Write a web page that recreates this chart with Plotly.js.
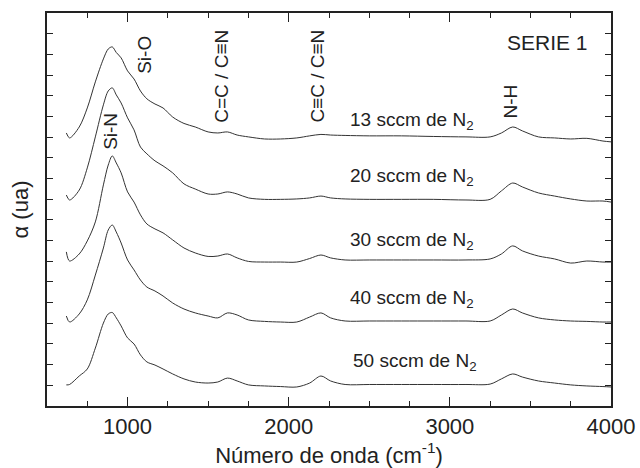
<!DOCTYPE html>
<html>
<head>
<meta charset="utf-8">
<script src="https://cdn.plot.ly/plotly-3.0.1.min.js"></script>
<style>html,body{margin:0;padding:0;background:#fff;}#chart{width:640px;height:468px;}</style>
</head>
<body>
<div id="chart"></div>
<script>
// Wavenumber grid (cm^-1)
const wavenumber = [620, 640, 700, 750, 800, 850, 880, 905, 930, 960, 1000, 1040, 1080, 1120, 1170, 1220, 1280, 1350, 1420, 1500, 1560, 1620, 1680, 1750, 1850, 1950, 2050, 2130, 2200, 2260, 2350, 2500, 2700, 2900, 3100, 3250, 3320, 3390, 3450, 3550, 3650, 3750, 3850, 3950, 4000];

// Absorption (arbitrary units, vertically offset series)
const s13 = [13.20, 12.96, 13.49, 14.41, 15.67, 16.78, 17.26, 17.36, 17.09, 16.83, 16.20, 15.81, 15.23, 14.85, 14.60, 14.41, 13.97, 13.66, 13.49, 13.25, 13.20, 13.25, 13.10, 13.01, 12.91, 12.91, 12.96, 13.06, 13.13, 13.10, 13.08, 13.06, 13.06, 13.03, 13.01, 13.01, 13.20, 13.49, 13.30, 13.01, 12.96, 12.91, 12.94, 12.81, 12.77];
const s20 = [10.20, 9.96, 10.44, 11.51, 13.01, 14.56, 15.23, 15.38, 15.04, 14.65, 13.93, 13.35, 12.52, 12.19, 11.85, 11.61, 11.27, 10.74, 10.49, 10.25, 10.25, 10.35, 10.25, 10.06, 9.99, 9.99, 10.01, 10.06, 10.15, 10.06, 10.01, 9.99, 9.99, 9.99, 9.96, 9.99, 10.40, 10.78, 10.59, 10.30, 10.15, 10.01, 9.91, 9.91, 9.86];
const s30 = [7.45, 7.01, 7.35, 7.98, 8.90, 10.69, 11.65, 12.09, 11.75, 11.27, 10.35, 9.86, 9.24, 8.80, 8.56, 8.37, 8.03, 7.64, 7.40, 7.23, 7.25, 7.35, 7.16, 6.99, 6.96, 6.96, 6.96, 7.13, 7.30, 7.16, 7.06, 7.06, 7.06, 7.06, 7.06, 7.11, 7.35, 7.74, 7.50, 7.25, 7.11, 6.91, 7.01, 6.96, 6.96];
const s40 = [4.35, 4.06, 4.45, 5.13, 6.33, 7.64, 8.51, 8.75, 8.41, 7.88, 7.06, 6.58, 6.09, 5.75, 5.56, 5.32, 4.98, 4.69, 4.50, 4.35, 4.26, 4.50, 4.40, 4.16, 4.09, 4.06, 4.06, 4.30, 4.50, 4.26, 4.11, 4.11, 4.11, 4.11, 4.11, 4.11, 4.40, 4.69, 4.50, 4.26, 4.16, 4.11, 4.09, 4.06, 4.06];
const s50 = [1.02, 1.04, 1.45, 1.79, 2.80, 4.01, 4.45, 4.52, 4.26, 3.87, 3.29, 3.00, 2.47, 2.13, 1.98, 1.79, 1.55, 1.31, 1.16, 1.11, 1.16, 1.35, 1.21, 1.02, 0.97, 0.94, 0.92, 1.11, 1.45, 1.21, 1.04, 1.04, 1.04, 1.04, 1.04, 1.06, 1.31, 1.55, 1.40, 1.21, 1.11, 1.02, 0.97, 0.94, 0.92];

const seriesNames = ['13 sccm de N<sub>2</sub>', '20 sccm de N<sub>2</sub>', '30 sccm de N<sub>2</sub>', '40 sccm de N<sub>2</sub>', '50 sccm de N<sub>2</sub>'];
const seriesLabelX = [2763, 2763, 2763, 2763, 2781];
const seriesLabelY = [13.78, 11.07, 7.98, 5.17, 2.13];

const bandLabels = ['Si-O', 'Si-N', 'C=C / C≡N', 'C≡C / C≡N', 'N-H'];
const bandX = [1107, 897, 1585, 2180, 3377];
const bandY = [16.97, 13.3, 15.96, 15.96, 14.7];

const FONT = 'Liberation Sans, Arial, Helvetica, sans-serif';
const INK = '#222';

const allSeries = [s13, s20, s30, s40, s50];
const traces = allSeries.map((s, i) => ({
  x: wavenumber, y: s, type: 'scatter', mode: 'lines',
  line: {color: '#333', width: 1, shape: 'spline', smoothing: 0.9},
  name: seriesNames[i], hoverinfo: 'skip', showlegend: false
}));

const annotations = [];
seriesNames.forEach((t, i) => annotations.push({
  x: seriesLabelX[i], y: seriesLabelY[i], xref: 'x', yref: 'y', text: t,
  showarrow: false, font: {family: FONT, size: 19, color: INK}
}));
bandLabels.forEach((t, i) => annotations.push({
  x: bandX[i], y: bandY[i], xref: 'x', yref: 'y', text: t, textangle: -90,
  showarrow: false, font: {family: FONT, size: 19, color: INK}
}));
annotations.push({
  x: 3606, y: 17.55, xref: 'x', yref: 'y', text: 'SERIE 1',
  showarrow: false, font: {family: FONT, size: 21, color: INK}
});

const layout = {
  width: 640, height: 468,
  margin: {l: 47, r: 29, t: 13, b: 62},
  paper_bgcolor: '#fff', plot_bgcolor: '#fff',
  font: {family: FONT, color: INK, size: 22},
  xaxis: {
    range: [500, 4000], tick0: 0, dtick: 1000, ticks: 'inside', ticklen: 9, tickwidth: 1.2,
    tickcolor: '#222', showline: true, linecolor: '#222', linewidth: 1.8, mirror: 'ticks',
    showgrid: false, zeroline: false,
    minor: {dtick: 250, tick0: 0, ticks: 'inside', ticklen: 5, tickwidth: 1.2, tickcolor: '#222', showgrid: false},
    tickfont: {family: FONT, size: 22, color: INK},
    title: {text: 'Número de onda (cm<sup>-1</sup>)', font: {family: FONT, size: 22, color: INK}, standoff: 8}
  },
  yaxis: {
    range: [0, 19], tick0: 0, dtick: 1, ticks: 'inside', ticklen: 6, tickwidth: 1.2,
    tickcolor: '#222', showline: true, linecolor: '#222', linewidth: 1.8, mirror: 'ticks',
    showgrid: false, zeroline: false, showticklabels: false,
    title: {text: 'α (ua)', font: {family: FONT, size: 22, color: INK}, standoff: 10}
  },
  annotations: annotations
};

Plotly.newPlot('chart', traces, layout, {displayModeBar: false});
</script>
</body>
</html>
